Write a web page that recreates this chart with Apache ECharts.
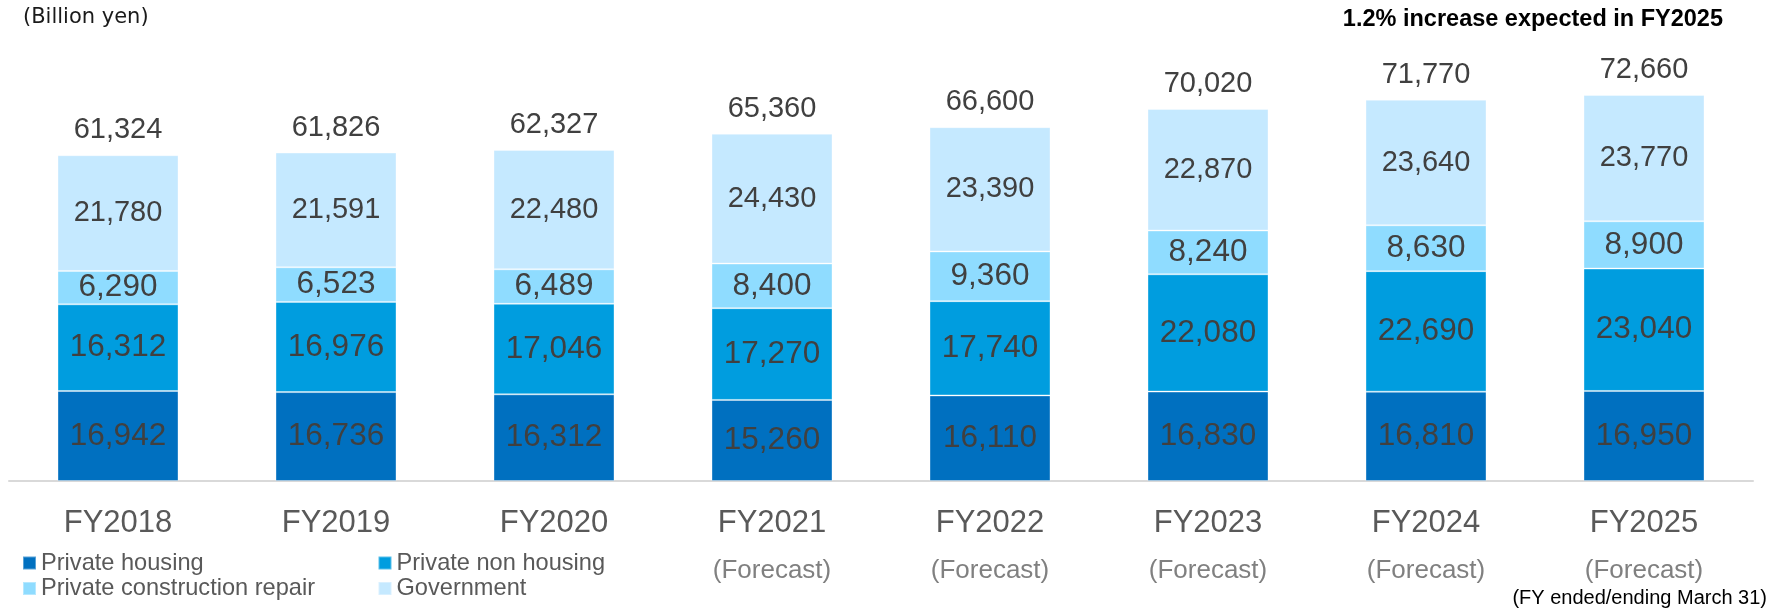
<!DOCTYPE html>
<html>
<head>
<meta charset="utf-8">
<title>Construction investment</title>
<script src="https://cdn.jsdelivr.net/npm/echarts@6/dist/echarts.min.js"></script>
<style>
  html, body { margin: 0; padding: 0; background: #fff; }
  #chart { width: 1769px; height: 608px; }
</style>
</head>
<body>
<div id="chart"></div>
<script>
// Fiscal years shown on the axis; the later ones are forecasts
const years = ['FY2018', 'FY2019', 'FY2020', 'FY2021', 'FY2022', 'FY2023', 'FY2024', 'FY2025'];
const forecast = [false, false, false, true, true, true, true, true];

// Construction investment by segment (billion yen)
const privateHousing = [16942, 16736, 16312, 15260, 16110, 16830, 16810, 16950];
const privateNonHousing = [16312, 16976, 17046, 17270, 17740, 22080, 22690, 23040];
const privateRepair = [6290, 6523, 6489, 8400, 9360, 8240, 8630, 8900];
const government = [21780, 21591, 22480, 24430, 23390, 22870, 23640, 23770];
const totals = [61324, 61826, 62327, 65360, 66600, 70020, 71770, 72660];

const seriesNames = ['Private housing', 'Private non housing', 'Private construction repair', 'Government'];
const seriesColors = ['#0070C0', '#009DDF', '#8FDCFF', '#C5E9FF'];

const FONT = '"Liberation Sans", Arial, sans-serif';
const fmt = v => Number(v).toLocaleString('en-US');

function segment(name, data, color, fontSize) {
  return {
    name: name,
    type: 'bar',
    stack: 'total',
    data: data,
    barWidth: 121,
    itemStyle: { color: color, borderColor: 'rgba(255,255,255,0.35)', borderWidth: 1 },
    label: {
      show: true,
      position: 'inside',
      formatter: p => fmt(p.value),
      color: '#404040',
      fontFamily: FONT,
      fontSize: fontSize
    },
    emphasis: { disabled: true }
  };
}

function legendColumn(left, names) {
  return {
    left: left, top: 551, orient: 'vertical', padding: 0, height: 57,
    data: names,
    icon: 'rect', itemWidth: 13, itemHeight: 13, itemGap: 1.5, itemTextGap: 5,
    textStyle: { fontFamily: FONT, fontSize: 23.6, lineHeight: 24, color: '#595959' },
    selectedMode: false
  };
}

const chart = echarts.init(document.getElementById('chart'), null, { renderer: 'canvas' });

chart.setOption({
  animation: false,
  backgroundColor: '#ffffff',
  grid: { left: 9, right: 16, top: 56, bottom: 127, containLabel: false },
  xAxis: {
    type: 'category',
    data: years,
    axisLine: { show: true, lineStyle: { color: '#D9D9D9', width: 2 } },
    axisTick: { show: false },
    axisLabel: {
      margin: 22,
      interval: 0,
      formatter: (v, i) => forecast[i] ? '{a|' + v + '}\n{b|(Forecast)}' : '{a|' + v + '}',
      rich: {
        a: { fontFamily: FONT, fontSize: 31, color: '#595959', lineHeight: 40 },
        b: { fontFamily: FONT, fontSize: 26, color: '#808080', lineHeight: 56 }
      }
    }
  },
  yAxis: {
    type: 'value',
    min: 0,
    max: 80000,
    show: false,
    splitLine: { show: false }
  },
  legend: [
    legendColumn(22, [seriesNames[0], seriesNames[2]]),
    legendColumn(377.5, [seriesNames[1], seriesNames[3]])
  ],
  graphic: [
    {
      type: 'text', left: 23, top: 7,
      style: { text: '(Billion yen)', font: '21px "DejaVu Sans", sans-serif', fill: '#1a1a1a' }
    },
    {
      type: 'text', right: 46, top: 8,
      style: { text: '1.2% increase expected in FY2025', font: 'bold 23.5px ' + FONT, fill: '#000000' }
    },
    {
      type: 'text', right: 2, top: 588,
      style: { text: '(FY ended/ending March 31)', font: '20px ' + FONT, fill: '#000000' }
    }
  ],
  series: [
    segment(seriesNames[0], privateHousing, seriesColors[0], 31.5),
    segment(seriesNames[1], privateNonHousing, seriesColors[1], 31.5),
    segment(seriesNames[2], privateRepair, seriesColors[2], 31.5),
    segment(seriesNames[3], government, seriesColors[3], 29),
    {
      name: 'Total',
      type: 'scatter',
      data: totals,
      symbolSize: 0,
      silent: true,
      itemStyle: { opacity: 1 },
      label: {
        show: true,
        position: 'inside',
        offset: [0, -25],
        formatter: p => fmt(p.value),
        color: '#404040',
        opacity: 1,
        fontFamily: FONT,
        fontSize: 29
      }
    }
  ]
});
</script>
</body>
</html>
